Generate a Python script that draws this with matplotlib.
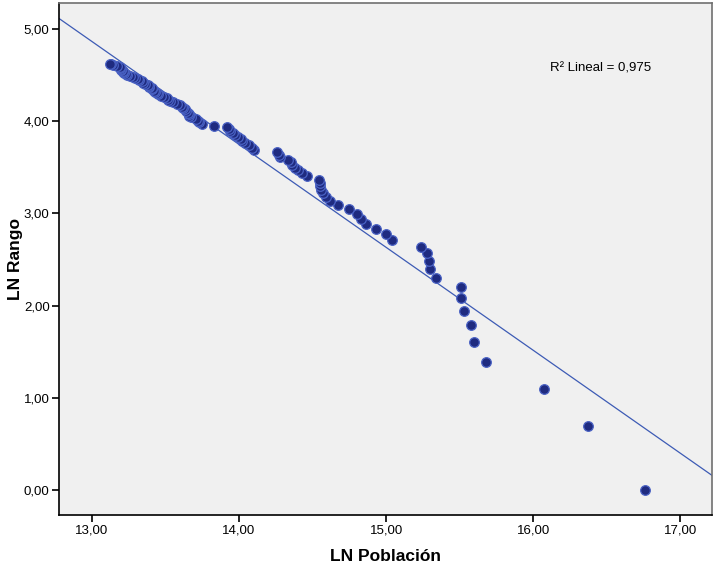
import numpy as np
import matplotlib
matplotlib.use("Agg")
import matplotlib.pyplot as plt
from matplotlib.ticker import FuncFormatter

plt.rcParams['font.family'] = ['Liberation Sans', 'DejaVu Sans']

# LN Población (x) por rango, del mayor al menor
ln_poblacion = [
    16.76, 16.37, 16.07, 15.68, 15.60, 15.58, 15.53, 15.51, 15.51, 15.34,
    15.30, 15.29, 15.28, 15.24, 15.04, 15.00, 14.93, 14.86, 14.83, 14.80,
    14.75, 14.67, 14.62, 14.59, 14.57, 14.56, 14.55, 14.55, 14.54, 14.46,
    14.43, 14.40, 14.38, 14.36, 14.35, 14.33, 14.28, 14.27, 14.26, 14.10,
    14.09, 14.07, 14.04, 14.02, 14.01, 13.99, 13.97, 13.96, 13.94, 13.93,
    13.92, 13.83, 13.75, 13.73, 13.72, 13.71, 13.67, 13.66, 13.66, 13.65,
    13.64, 13.63, 13.62, 13.61, 13.60, 13.58, 13.55, 13.53, 13.52, 13.51,
    13.49, 13.47, 13.45, 13.44, 13.43, 13.42, 13.41, 13.41, 13.39, 13.39,
    13.38, 13.36, 13.35, 13.34, 13.32, 13.31, 13.29, 13.28, 13.26, 13.24,
    13.23, 13.22, 13.21, 13.21, 13.20, 13.20, 13.19, 13.19, 13.17, 13.14,
    13.13, 13.12,
]

# LN Rango (y)
ln_rango = [
    0.000, 0.693, 1.099, 1.386, 1.609, 1.792, 1.946, 2.079, 2.197, 2.303,
    2.398, 2.485, 2.565, 2.639, 2.708, 2.773, 2.833, 2.890, 2.944, 2.996,
    3.045, 3.091, 3.135, 3.178, 3.219, 3.258, 3.296, 3.332, 3.367, 3.401,
    3.434, 3.466, 3.497, 3.526, 3.555, 3.584, 3.611, 3.638, 3.664, 3.689,
    3.714, 3.738, 3.761, 3.784, 3.807, 3.829, 3.850, 3.871, 3.892, 3.912,
    3.932, 3.951, 3.970, 3.989, 4.007, 4.025, 4.043, 4.060, 4.078, 4.094,
    4.111, 4.127, 4.143, 4.159, 4.174, 4.190, 4.205, 4.220, 4.234, 4.248,
    4.263, 4.277, 4.290, 4.304, 4.317, 4.331, 4.344, 4.357, 4.369, 4.382,
    4.394, 4.407, 4.419, 4.431, 4.443, 4.454, 4.466, 4.477, 4.489, 4.500,
    4.511, 4.522, 4.533, 4.543, 4.554, 4.564, 4.575, 4.585, 4.595, 4.605,
    4.615, 4.625,
]

x_ticks = [13, 14, 15, 16, 17]
y_ticks = [0, 1, 2, 3, 4, 5]
r2_label = "R² Lineal = 0,975"

x = np.array(ln_poblacion)
y = np.array(ln_rango)

fig = plt.figure(figsize=(7.13, 5.72), dpi=100)
ax = fig.add_axes([0.0832, 0.0997, 0.9154, 0.8956])
ax.set_facecolor('#f0f0f0')

xlim = (12.778, 17.215)
ylim = (-0.271, 5.285)

# recta de ajuste
slope, intercept = np.polyfit(x, y, 1)
xx = np.array(xlim)
ax.plot(xx, intercept + slope * xx, color='#3d5bb5', lw=0.9, zorder=2)

ax.scatter(x, y, s=48, facecolor='#1f2b80', edgecolor='#4a62c4',
           linewidths=0.9, zorder=3)

ax.set_xlim(*xlim)
ax.set_ylim(*ylim)
ax.set_xticks(x_ticks)
ax.set_yticks(y_ticks)
fmt = FuncFormatter(lambda v, p: f"{v:.2f}".replace('.', ','))
ax.xaxis.set_major_formatter(fmt)
ax.yaxis.set_major_formatter(fmt)
ax.tick_params(direction='out', length=5, width=1.2, labelsize=9.5, pad=2,
               colors='black')

for s in ['left', 'bottom']:
    ax.spines[s].set_color('black')
    ax.spines[s].set_linewidth(1.2)
for s in ['top', 'right']:
    ax.spines[s].set_color('#707070')
    ax.spines[s].set_linewidth(1.2)

ax.set_xlabel("LN Población", fontsize=12.5, fontweight='bold')
ax.set_ylabel("LN Rango", fontsize=12.5, fontweight='bold')
ax.xaxis.set_label_coords(0.5, -0.066)
ax.yaxis.set_label_coords(-0.055, 0.5)

ax.text(0.752, 0.8725, r2_label, transform=ax.transAxes, fontsize=9.5,
        ha='left', va='center')

fig.savefig("out.png", dpi=100)
